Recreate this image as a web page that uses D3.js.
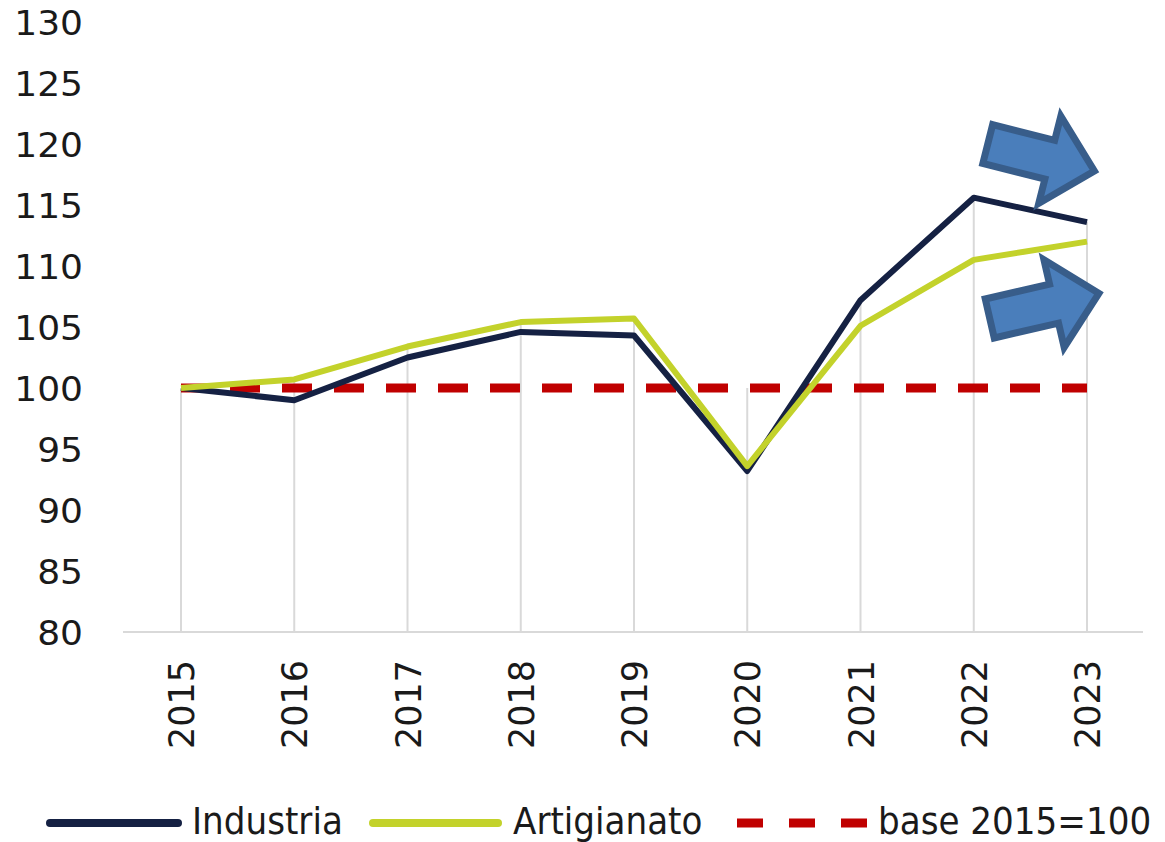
<!DOCTYPE html>
<html><head><meta charset="utf-8">
<script src="https://cdn.jsdelivr.net/npm/d3@7"></script>
<style>body{margin:0;background:#fff}svg{display:block}</style>
</head><body><svg id="c" width="1165" height="842"></svg>
<script>
const years = ["2015","2016","2017","2018","2019","2020","2021","2022","2023"];
const industria = [100, 99.0, 102.5, 104.6, 104.3, 93.2, 107.2, 115.6, 113.6];
const artigianato = [100, 100.7, 103.4, 105.4, 105.7, 93.6, 105.1, 110.5, 112.0];
const base = [100, 100, 100, 100, 100, 100, 100, 100, 100];
const yTicks = [80, 85, 90, 95, 100, 105, 110, 115, 120, 125, 130];
const legendLabels = ["Industria", "Artigianato", "base 2015=100"];

const svg = d3.select("#c");
const x = d3.scalePoint().domain(years).range([181, 1087]);
const y = d3.scaleLinear().domain([80, 130]).range([632, 22]);
const tf = "DejaVu Sans, Verdana, sans-serif";

// axis line
svg.append("line").attr("x1",123).attr("x2",1143).attr("y1",y(80)).attr("y2",y(80))
  .attr("stroke","#d9d9d9").attr("stroke-width",2);

// drop lines
years.forEach((yr,i)=>{
  const top = Math.max(industria[i], artigianato[i], base[i]);
  svg.append("line").attr("x1",x(yr)).attr("x2",x(yr)).attr("y1",y(top)).attr("y2",y(80))
    .attr("stroke","#d9d9d9").attr("stroke-width",2);
});

// y axis labels
const yAxis = d3.axisLeft(y).tickValues(yTicks).tickSize(0).tickPadding(0);
const gy = svg.append("g").attr("transform","translate(83,0)").call(yAxis);
gy.select(".domain").remove();
gy.selectAll("text").attr("font-family",tf).attr("font-size",34)
  .attr("fill","#1a1a1a").attr("dy","0.36em").attr("transform","scale(1.06,1)");

// x axis labels
const xAxis = d3.axisBottom(x).tickSize(0).tickPadding(0);
const gx = svg.append("g").attr("transform","translate(0,"+y(80)+")").call(xAxis);
gx.select(".domain").remove();
gx.selectAll("text").attr("font-family",tf).attr("font-size",35)
  .attr("fill","#1a1a1a").attr("transform","rotate(-90)").attr("text-anchor","end")
  .attr("x",-28).attr("y",0).attr("dy","0.36em");

const line = d3.line().x((d,i)=>x(years[i])).y(d=>y(d));

svg.append("path").datum(base).attr("d",line).attr("fill","none")
  .attr("stroke","#c00000").attr("stroke-width",9).attr("stroke-dasharray","30,22")
  .attr("stroke-dashoffset",3);
svg.append("path").datum(industria).attr("d",line).attr("fill","none")
  .attr("stroke","#152143").attr("stroke-width",6).attr("stroke-linejoin","round");
svg.append("path").datum(artigianato).attr("d",line).attr("fill","none")
  .attr("stroke","#c3d22b").attr("stroke-width",6).attr("stroke-linejoin","round");

// block arrows (annotations)
function arrow(cx, cy, len, ang){
  const sw=20, hw=45, hl=46;
  const pts=[[0,-sw],[len-hl,-sw],[len-hl,-hw],[len,0],[len-hl,hw],[len-hl,sw],[0,sw]];
  svg.append("polygon").attr("points",pts.map(p=>p.join(",")).join(" "))
    .attr("transform",`translate(${cx},${cy}) rotate(${ang})`)
    .attr("fill","#4a7ebb").attr("stroke","#385d8a").attr("stroke-width",7).attr("stroke-linejoin","miter");
}
arrow(x("2022")+14, y(120.0), 110, 14.2);
arrow(x("2022")+16, y(105.7), 112, -13);

// legend
const lg = svg.append("g");
const lf = "DejaVu Sans Condensed, DejaVu Sans, sans-serif";
lg.append("line").attr("x1",50).attr("x2",178).attr("y1",823).attr("y2",823)
  .attr("stroke","#152143").attr("stroke-width",8).attr("stroke-linecap","round");
lg.append("text").attr("x",192).attr("y",834).text(legendLabels[0])
  .attr("font-family",lf).attr("font-size",38).attr("fill","#1a1a1a");
lg.append("line").attr("x1",373).attr("x2",498).attr("y1",823).attr("y2",823)
  .attr("stroke","#c3d22b").attr("stroke-width",8).attr("stroke-linecap","round");
lg.append("text").attr("x",513).attr("y",834).text(legendLabels[1])
  .attr("font-family",lf).attr("font-size",38).attr("fill","#1a1a1a");
lg.append("line").attr("x1",737).attr("x2",868).attr("y1",823).attr("y2",823)
  .attr("stroke","#c00000").attr("stroke-width",9).attr("stroke-dasharray","26,26");
lg.append("text").attr("x",878).attr("y",834).text(legendLabels[2])
  .attr("font-family",lf).attr("font-size",38).attr("fill","#1a1a1a");
</script></body></html>
